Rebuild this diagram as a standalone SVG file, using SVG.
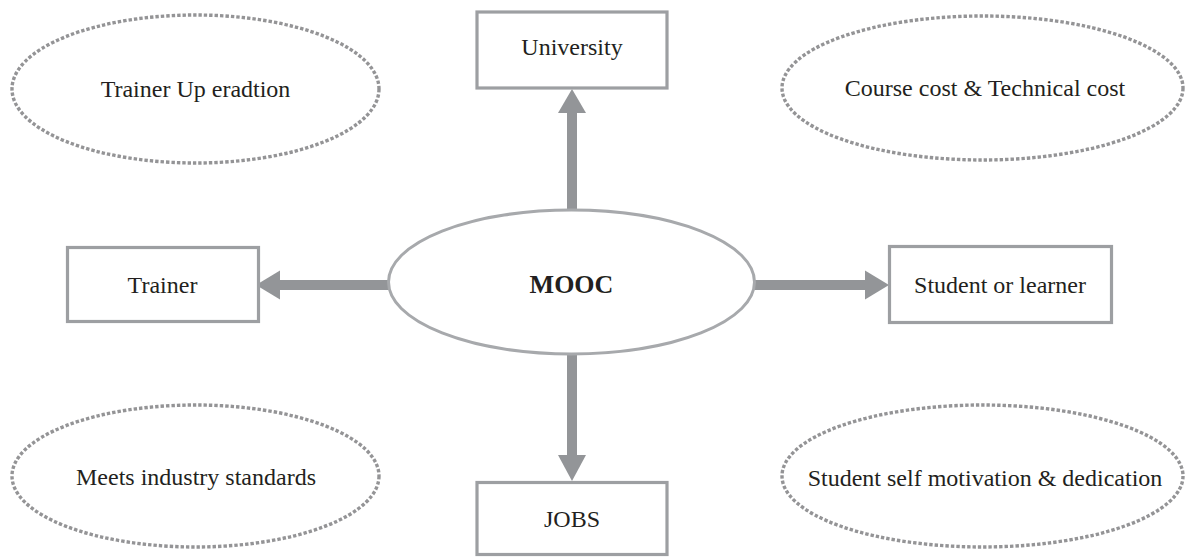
<svg xmlns="http://www.w3.org/2000/svg" width="1185" height="557" viewBox="0 0 1185 557">
<style>
text{font-family:"Liberation Serif","Times New Roman",serif;font-size:24px;fill:#231f20;text-anchor:middle}
.dot{fill:none;stroke:#949496;stroke-width:3.4;stroke-dasharray:3.4 2}
.box{fill:#fff;stroke:#9d9fa2;stroke-width:3.2}
.hub{fill:#fff;stroke:#a7a9ac;stroke-width:3}
.arr{fill:#939598}
</style>
<g id="trainer-up">
<ellipse class="dot" cx="195.5" cy="89" rx="183.5" ry="74"/>
<text x="195.5" y="97">Trainer Up eradtion</text>
</g>
<g id="course-cost">
<ellipse class="dot" cx="982.5" cy="88" rx="200.5" ry="72"/>
<text x="985" y="96">Course cost &amp; Technical cost</text>
</g>
<g id="industry">
<ellipse class="dot" cx="195.5" cy="476" rx="183.5" ry="71"/>
<text x="196" y="485">Meets industry standards</text>
</g>
<g id="motivation">
<ellipse class="dot" cx="982.5" cy="476" rx="200.5" ry="71"/>
<text x="985" y="486">Student self motivation &amp; dedication</text>
</g>
<g id="connectors">
<rect class="arr" x="567" y="112" width="10" height="99"/>
<polygon class="arr" points="572,89 586,113 558,113"/>
<rect class="arr" x="279" y="280" width="110" height="10"/>
<polygon class="arr" points="256,285 280,270.5 280,299.5"/>
<rect class="arr" x="754" y="280" width="112" height="10"/>
<polygon class="arr" points="889,285 865,270.5 865,299.5"/>
<rect class="arr" x="567" y="353" width="10" height="103"/>
<polygon class="arr" points="572,481 586,455 558,455"/>
</g>
<g id="mooc">
<ellipse class="hub" cx="571.5" cy="282" rx="183" ry="72"/>
<text x="571.5" y="293" style="font-weight:bold;font-size:26px">MOOC</text>
</g>
<g id="university">
<rect class="box" x="477" y="12" width="190" height="76"/>
<text x="572" y="55">University</text>
</g>
<g id="trainer">
<rect class="box" x="67.5" y="247.5" width="191" height="74"/>
<text x="162.5" y="293">Trainer</text>
</g>
<g id="student">
<rect class="box" x="889.5" y="246.5" width="222" height="76"/>
<text x="1000" y="293">Student or learner</text>
</g>
<g id="jobs">
<rect class="box" x="477" y="482.5" width="190" height="72"/>
<text x="572" y="527">JOBS</text>
</g>
</svg>
